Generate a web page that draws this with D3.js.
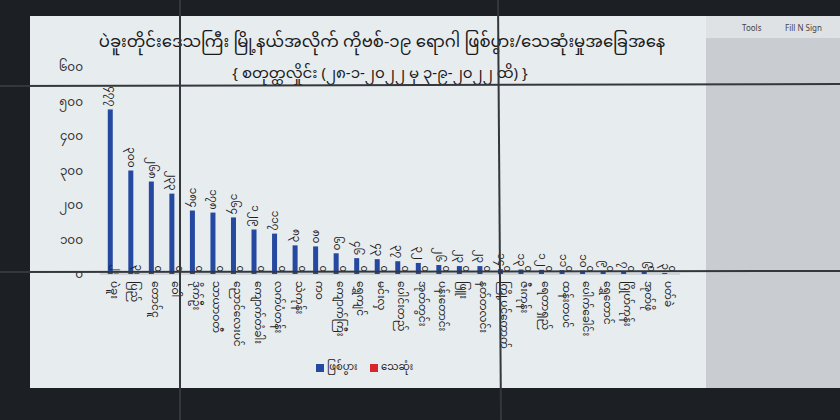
<!DOCTYPE html>
<html>
<head>
<meta charset="utf-8">
<script src="https://cdn.jsdelivr.net/npm/d3@7"></script>
<style>
  body { margin: 0; background: #1c1f23; }
  svg text { font-family: "Noto Sans Myanmar", "Myanmar Text", "Padauk", "Noto Sans", "DejaVu Sans", sans-serif; }
</style>
</head>
<body>
<div id="chart"></div>
<script>
// township names (x categories)
const townships = [
  "ပဲခူး", "ပြည်", "တောင်ငူ", "ဝေါ", "ဒိုက်ဦး", "သာယာဝတီ", "ညောင်လေးပင်",
  "ကျောက်တံခါး", "လက်ပံတန်း", "သဲကုန်း", "ကဝ", "ကျောက်ကြီး", "ရွှေကျင်", "မင်းလှ",
  "ပေါင်းတည်", "အုတ်တွင်း", "ပန်းတောင်း", "ဖြူး", "နတ်တလင်း", "ကြို့ပင်ကောက်", "ဇီးကုန်း",
  "ရေတာရှည်", "ထန်းတပင်", "ပေါက်ခေါင်း", "ရွှေတောင်", "ဂြိုဟ်ကုန်း", "အုတ်ဖို", "ပတ်ခဲ"
];
// infected (blue) and deaths (red)
const cases = [477, 300, 268, 233, 184, 178, 164, 129, 117, 83, 80, 60, 46, 43,
               37, 32, 26, 23, 23, 14, 13, 12, 11, 10, 9, 7, 6, 3];
const deaths = [2, 3, 0, 0, 0, 0, 0, 0, 0, 0, 0, 0, 0, 0,
                0, 0, 0, 0, 0, 0, 0, 0, 0, 0, 0, 0, 0, 0];
const yTicks = [0, 100, 200, 300, 400, 500, 600];
const seriesNames = ["ဖြစ်ပွား", "သေဆုံး"];
const seriesColors = ["#2549a0", "#d8262c"];
const titleLine1 = "ပဲခူးတိုင်းဒေသကြီး မြို့နယ်အလိုက် ကိုဗစ်-၁၉ ရောဂါ ဖြစ်ပွား/သေဆုံးမှုအခြေအနေ";
const titleLine2 = "{ စတုတ္ထလှိုင်း (၂၈-၁-၂၀၂၂ မှ ၃-၉-၂၀၂၂ ထိ) }";

const mmDigits = "၀၁၂၃၄၅၆၇၈၉";
const toMM = n => String(n).replace(/[0-9]/g, c => mmDigits[+c]);

const width = 840, height = 420;
const svg = d3.select("#chart").append("svg")
  .attr("width", width).attr("height", height);

// screen backdrop (photo of a display wall)
svg.append("rect").attr("x", 0).attr("y", 0).attr("width", width).attr("height", height).attr("fill", "#1c1f23");
svg.append("rect").attr("x", 30).attr("y", 16).attr("width", 676).attr("height", 372).attr("fill", "#e7ecef");
svg.append("rect").attr("x", 706).attr("y", 16).attr("width", 134).attr("height", 372).attr("fill", "#c9cdd1");
svg.append("rect").attr("x", 706).attr("y", 16).attr("width", 134).attr("height", 22).attr("fill", "#dfe2e5");
svg.append("text").attr("x", 742).attr("y", 31).attr("font-size", 8).attr("fill", "#444").text("Tools");
svg.append("text").attr("x", 785).attr("y", 31).attr("font-size", 8).attr("fill", "#444").text("Fill N Sign");

const x = d3.scaleBand().domain(townships).range([103, 678]).paddingInner(0).paddingOuter(0);
const y = d3.scaleLinear().domain([0, 600]).range([274, 67]);
const barW = 5;

// title
svg.append("text").attr("x", 382).attr("y", 47).attr("text-anchor", "middle")
  .attr("font-size", 16.5).attr("fill", "#1a1a1a").text(titleLine1);
svg.append("text").attr("x", 380).attr("y", 78).attr("text-anchor", "middle")
  .attr("font-size", 15).attr("fill", "#1a1a1a").text(titleLine2);

// y axis labels
svg.append("g")
  .attr("transform", "translate(86,0)")
  .call(d3.axisLeft(y).tickValues(yTicks).tickSize(0).tickFormat(toMM))
  .call(g => g.select(".domain").remove())
  .call(g => g.selectAll("text").attr("font-size", 12).attr("fill", "#333")
    .style("font-family", "'Noto Sans Myanmar', 'Noto Sans', sans-serif"));

// baseline
svg.append("line").attr("x1", 100).attr("x2", 680).attr("y1", y(0)).attr("y2", y(0))
  .attr("stroke", "#b9bec4").attr("stroke-width", 1);

const groups = svg.append("g").selectAll("g").data(townships).join("g")
  .attr("transform", d => `translate(${x(d) + x.bandwidth() / 2},0)`);

// bars
groups.append("rect")
  .attr("x", -barW - 0.5).attr("width", barW)
  .attr("y", (d, i) => y(cases[i])).attr("height", (d, i) => y(0) - y(cases[i]))
  .attr("fill", seriesColors[0]);
groups.append("rect")
  .attr("x", 0.5).attr("width", barW)
  .attr("y", (d, i) => y(deaths[i])).attr("height", (d, i) => y(0) - y(deaths[i]))
  .attr("fill", seriesColors[1]);

// data labels (rotated)
groups.append("text")
  .attr("transform", (d, i) => `translate(${-barW / 2 - 0.5},${y(cases[i]) - 3}) rotate(90)`)
  .attr("text-anchor", "end").attr("dominant-baseline", "central")
  .attr("font-size", 10.5).attr("fill", "#222")
  .text((d, i) => toMM(cases[i]));
groups.append("text")
  .attr("transform", (d, i) => `translate(${barW / 2 + 0.5},${y(deaths[i]) - 2}) rotate(90)`)
  .attr("text-anchor", "end").attr("dominant-baseline", "central")
  .attr("font-size", 10).attr("fill", "#222")
  .text((d, i) => toMM(deaths[i]));

// category labels
groups.append("text")
  .attr("transform", `translate(0,${y(0) + 7}) rotate(90)`)
  .attr("text-anchor", "start").attr("dominant-baseline", "central")
  .attr("font-size", 10.5).attr("fill", "#222")
  .text(d => d);

// legend
const legend = svg.append("g").attr("transform", "translate(316,368)");
seriesNames.forEach((name, i) => {
  const lg = legend.append("g").attr("transform", `translate(${i * 54},0)`);
  lg.append("rect").attr("x", 0).attr("y", -4).attr("width", 8).attr("height", 8).attr("fill", seriesColors[i]);
  lg.append("text").attr("x", 11).attr("y", 0).attr("dominant-baseline", "central")
    .attr("font-size", 10).attr("fill", "#222").text(name);
});

// display wall seams
const seams = [[180, 0, 180, 420], [498, 0, 501, 420], [0, 86, 840, 84], [0, 272, 840, 271]];
svg.append("g").selectAll("line").data(seams).join("line")
  .attr("x1", d => d[0]).attr("y1", d => d[1]).attr("x2", d => d[2]).attr("y2", d => d[3])
  .attr("stroke", "#34373b").attr("stroke-width", 2);
</script>
</body>
</html>
